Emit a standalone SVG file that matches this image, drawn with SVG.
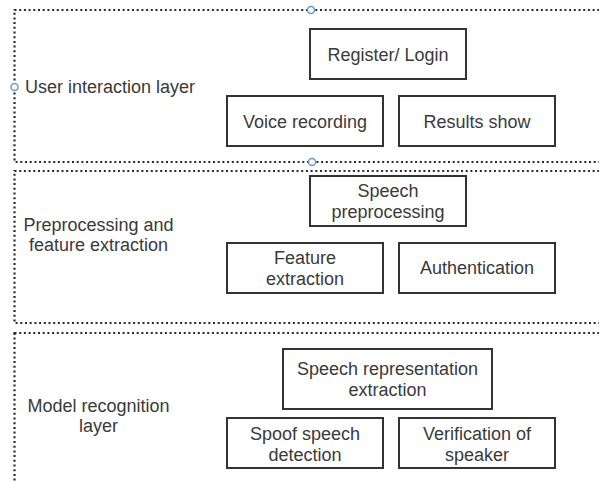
<svg xmlns="http://www.w3.org/2000/svg" width="599" height="481" viewBox="0 0 599 481">
<style>
.layer{fill:none;stroke:#2a2a2a;stroke-width:2.2;stroke-dasharray:2 2.7}
.node rect{fill:#fff;stroke:#333;stroke-width:2}
text{font-family:"Liberation Sans",Arial,sans-serif;font-size:18px;fill:#3a3a3a}
.c{text-anchor:middle}
.h{fill:#fff;stroke:#6a9ad0;stroke-width:1.5}
</style>
<rect width="599" height="481" fill="#fff"/>
<g id="layer-user">
<rect class="layer" x="14.5" y="10" width="600" height="152"/>
<text x="25" y="93">User interaction layer</text>
</g>
<g id="layer-pre">
<rect class="layer" x="14.5" y="171" width="600" height="152"/>
<text class="c" x="98.5" y="231">Preprocessing and</text>
<text class="c" x="98.5" y="251">feature extraction</text>
</g>
<g id="layer-model">
<rect class="layer" x="14.5" y="333" width="600" height="160"/>
<text class="c" x="98.5" y="412">Model recognition</text>
<text class="c" x="98.5" y="432">layer</text>
</g>
<g id="handles">
<circle class="h" cx="311" cy="10" r="3.5"/>
<circle class="h" cx="14.5" cy="87" r="3.5"/>
<circle class="h" cx="312" cy="162" r="3.5"/>
</g>
<g id="n-register" class="node"><rect x="310" y="29" width="156" height="50"/><text class="c" x="388" y="61">Register/ Login</text></g>
<g id="n-voice" class="node"><rect x="227" y="96" width="156" height="50"/><text class="c" x="305" y="128">Voice recording</text></g>
<g id="n-results" class="node"><rect x="399" y="96" width="156" height="50"/><text class="c" x="477" y="128">Results show</text></g>
<g id="n-speechpre" class="node"><rect x="310" y="176" width="156" height="50"/><text class="c" x="388" y="197">Speech</text><text class="c" x="388" y="218">preprocessing</text></g>
<g id="n-feature" class="node"><rect x="227" y="243" width="156" height="50"/><text class="c" x="305" y="264">Feature</text><text class="c" x="305" y="285">extraction</text></g>
<g id="n-auth" class="node"><rect x="399" y="243" width="156" height="50"/><text class="c" x="477" y="274">Authentication</text></g>
<g id="n-repr" class="node"><rect x="283" y="349" width="209" height="60"/><text class="c" x="387.5" y="375">Speech representation</text><text class="c" x="387.5" y="396">extraction</text></g>
<g id="n-spoof" class="node"><rect x="227" y="418" width="156" height="50"/><text class="c" x="305" y="440">Spoof speech</text><text class="c" x="305" y="461">detection</text></g>
<g id="n-verif" class="node"><rect x="399" y="418" width="156" height="50"/><text class="c" x="477" y="440">Verification of</text><text class="c" x="477" y="461">speaker</text></g>
<g id="connectors"></g>
</svg>
